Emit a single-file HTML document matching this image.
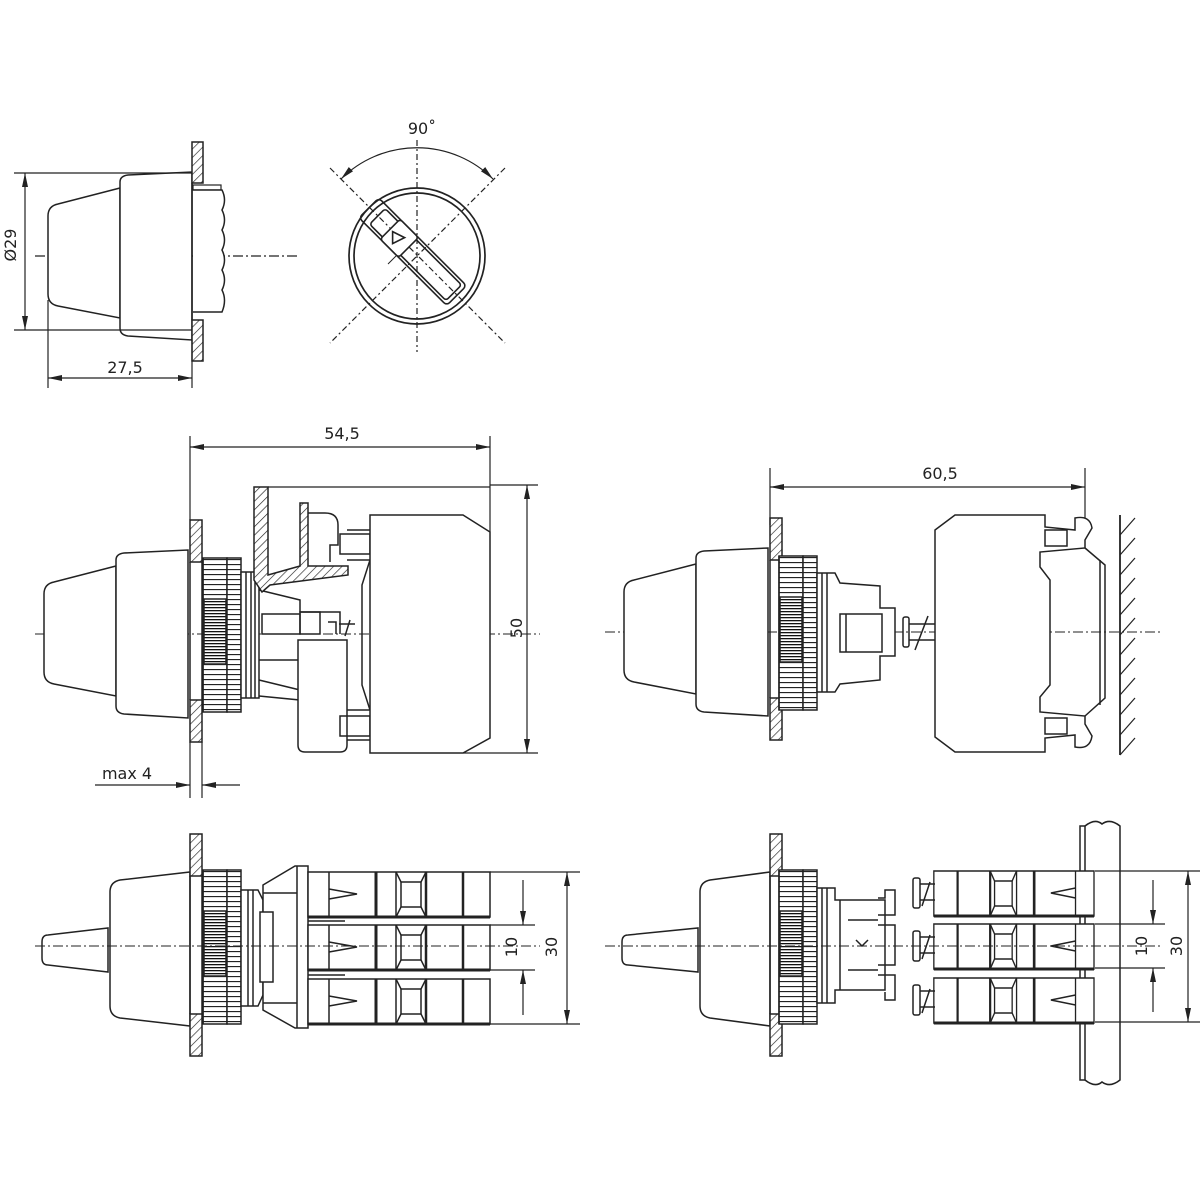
<!DOCTYPE html>
<html><head><meta charset="utf-8"><style>
html,body{margin:0;padding:0;background:#fff;}
svg{display:block;}
text{font-family:"DejaVu Sans","Liberation Sans",sans-serif;font-size:16px;fill:#222;}
</style></head><body>
<svg width="1200" height="1200" viewBox="0 0 1200 1200" xmlns="http://www.w3.org/2000/svg">
<defs>
<pattern id="h" width="6" height="6" patternUnits="userSpaceOnUse" patternTransform="rotate(45)">
<rect width="6" height="6" fill="#fff"/><line x1="0" y1="0" x2="0" y2="6" stroke="#222" stroke-width="1.3"/></pattern>
<pattern id="kn" width="10" height="5" patternUnits="userSpaceOnUse">
<rect width="10" height="5" fill="#fff"/><line x1="0" y1="0.5" x2="10" y2="0.5" stroke="#222" stroke-width="1.3"/></pattern>
<pattern id="kd" width="10" height="3" patternUnits="userSpaceOnUse">
<rect width="10" height="3" fill="#fff"/><line x1="0" y1="0.5" x2="10" y2="0.5" stroke="#111" stroke-width="1.6"/></pattern>
<marker id="a" markerWidth="14" markerHeight="8" refX="14" refY="4" orient="auto" markerUnits="userSpaceOnUse">
<path d="M0,1 L14,4 L0,7 Z" fill="#222"/></marker>
<marker id="as" markerWidth="14" markerHeight="8" refX="0" refY="4" orient="auto" markerUnits="userSpaceOnUse">
<path d="M14,1 L0,4 L14,7 Z" fill="#222"/></marker>

<!-- knob side view: plate at x=190, center y=0 -->
<g id="knob">
<path d="M46,-40 Q46,-50 56,-52 L118,-68 L118,62 L56,50 Q46,48 46,38 Z" fill="#fff" stroke="#222" stroke-width="1.5"/>
<path d="M118,-74 Q118,-80 126,-81 L190,-84 L190,84 L126,80 Q118,79 118,72 Z" fill="#fff" stroke="#222" stroke-width="1.5"/>
</g>
<g id="ring">
<rect x="203" y="-76" width="24" height="154" fill="url(#kn)" stroke="#222" stroke-width="1.5"/>
<rect x="204" y="-35" width="22" height="65" fill="url(#kd)"/>
<rect x="227" y="-76" width="14" height="154" fill="url(#kn)" stroke="#222" stroke-width="1.5"/>
<line x1="203" y1="-76" x2="203" y2="78" stroke="#222" stroke-width="1.5"/>
</g>
<g id="plate">
<rect x="190" y="-114" width="12" height="42" fill="url(#h)" stroke="#222" stroke-width="1.5"/>
<rect x="190" y="66" width="12" height="42" fill="url(#h)" stroke="#222" stroke-width="1.5"/>
<line x1="190" y1="-72" x2="190" y2="66" stroke="#222" stroke-width="1.5"/>
<line x1="202" y1="-72" x2="202" y2="66" stroke="#222" stroke-width="1.5"/>
</g>
<g id="row" fill="#fff" stroke="#222" stroke-width="1.5">
<rect x="0" y="0" width="182" height="45"/>
<line x1="21" y1="0" x2="21" y2="45"/><line x1="68" y1="0" x2="68" y2="45" stroke-width="3"/>
<line x1="88" y1="0" x2="88" y2="45"/><line x1="118" y1="0" x2="118" y2="45" stroke-width="2.5"/>
<line x1="155" y1="0" x2="155" y2="45" stroke-width="2.5"/>
<rect x="93" y="10" width="20" height="25"/>
<line x1="88" y1="0" x2="93" y2="10"/><line x1="118" y1="0" x2="113" y2="10"/><line x1="88" y1="45" x2="93" y2="35"/><line x1="118" y1="45" x2="113" y2="35"/>
<path d="M21,17 L49,22 L21,27" fill="none"/>
<line x1="0" y1="45" x2="182" y2="45" stroke-width="3"/>
</g>
</defs>

<g stroke="#222" stroke-width="1.2" fill="none">
<!-- ================= TOP LEFT ================= -->
<line x1="35" y1="256" x2="297" y2="256" stroke-dasharray="10,3,2,3"/>
<g transform="translate(2,256)"><use href="#knob"/></g>
<g transform="translate(0,256)">
<rect x="192" y="-114" width="11" height="41" fill="url(#h)" stroke-width="1.5"/>
<rect x="192" y="64" width="11" height="41" fill="url(#h)" stroke-width="1.5"/>
<line x1="192" y1="-73" x2="192" y2="64" stroke-width="1.5"/>
</g>
<rect x="193" y="185" width="28" height="5" fill="#fff"/>
<path d="M193,190 L222,190 Q227,200 222,210 Q227,220 222,230 Q227,240 222,250 Q227,260 222,270 Q227,280 222,290 Q227,300 222,312 L193,312" stroke-width="1.5" fill="#fff"/>
<line x1="14" y1="173" x2="192" y2="173"/>
<line x1="14" y1="330" x2="192" y2="330"/>
<line x1="25" y1="173" x2="25" y2="330" marker-start="url(#as)" marker-end="url(#a)"/>
<line x1="48" y1="300" x2="48" y2="388"/>
<line x1="192" y1="340" x2="192" y2="388"/>
<line x1="48" y1="378" x2="192" y2="378" marker-start="url(#as)" marker-end="url(#a)"/>

<!-- dial -->
<line x1="417" y1="140" x2="417" y2="352" stroke-dasharray="6,3,2,3"/>
<line x1="330" y1="168" x2="505" y2="343" stroke-dasharray="6,3,2,3"/>
<line x1="505" y1="168" x2="330" y2="343" stroke-dasharray="6,3,2,3"/>
<circle cx="417" cy="256" r="68" stroke-width="1.7" fill="none"/>
<circle cx="417" cy="256" r="63" stroke-width="1.7"/>
<path d="M341,179 A108,108 0 0 1 493,179" marker-start="url(#as)" marker-end="url(#a)"/>
<g transform="translate(417,256) rotate(45)" stroke-width="1.6">
<rect x="-68" y="-14" width="124" height="28" rx="4"/>
<rect x="-56" y="-11" width="108" height="22" rx="3"/>
<rect x="-38" y="-14" width="26" height="28" rx="3" fill="#fff"/>
<path d="M-32,-6 L-20,0 L-32,6 Z" transform="rotate(-45,-26,0)"/>
</g>
<line x1="388" y1="264" x2="396" y2="256" stroke-width="1"/>
</g>

<!-- ================= MIDDLE LEFT ================= -->
<g stroke="#222" stroke-width="1.5" fill="none">
<line x1="35" y1="634" x2="540" y2="634" stroke-width="1" stroke-dasharray="10,3,2,3"/>
<g transform="translate(-2,634)"><use href="#knob"/></g>
<g transform="translate(0,634)"><use href="#plate"/><use href="#ring"/></g>
<rect x="241" y="572" width="18" height="126" fill="#fff"/>
<line x1="246" y1="572" x2="246" y2="698"/><line x1="251" y1="572" x2="251" y2="698"/><line x1="255" y1="572" x2="255" y2="698"/>
<!-- internal -->
<path d="M259,590 L300,600 L300,612 L340,612 L340,634" />
<rect x="262" y="614" width="38" height="20"/>
<rect x="300" y="612" width="20" height="22"/>
<path d="M259,680 L300,690 L300,700 L259,696"/>
<path d="M259,660 L300,660"/>
<!-- bracket hatched -->
<path d="M254,487 L268,487 L268,575 L300,566 L300,503 L308,503 L308,566 L348,566 L348,575 L270,585 L262,592 L254,580 Z" fill="url(#h)"/>
<path d="M308,513 L325,513 Q338,513 338,525 L338,545 L330,545 L330,562" />
<path d="M268,487 L490,487" stroke-width="1.2"/>
<!-- lower block -->
<path d="M298,640 L298,745 Q298,752 305,752 L340,752 Q347,752 347,745 L347,640 Z" fill="#fff"/>
<path d="M328,622 L336,622 L336,634" />
<path d="M339,624 L355,624" /><path d="M350,620 L345,636"/>
<!-- frame -->
<path d="M347,530 L370,530 M347,560 L370,560 L362,585 L362,685 L370,710 M347,710 L370,710 M347,740 L370,740"/>
<rect x="340" y="534" width="30" height="20"/>
<rect x="340" y="716" width="30" height="20"/>
<!-- main block -->
<path d="M370,515 L463,515 L490,532 L490,738 L463,753 L370,753 Z" fill="#fff"/>
<!-- dims -->
<line x1="190" y1="436" x2="190" y2="520" stroke-width="1.2"/>
<line x1="490" y1="436" x2="490" y2="532" stroke-width="1.2"/>
<line x1="190" y1="447" x2="490" y2="447" stroke-width="1.2" marker-start="url(#as)" marker-end="url(#a)"/>
<line x1="490" y1="485" x2="538" y2="485" stroke-width="1.2"/>
<line x1="463" y1="753" x2="538" y2="753" stroke-width="1.2"/>
<line x1="527" y1="485" x2="527" y2="753" stroke-width="1.2" marker-start="url(#as)" marker-end="url(#a)"/>
<line x1="190" y1="742" x2="190" y2="798" stroke-width="1.2"/>
<line x1="202" y1="742" x2="202" y2="798" stroke-width="1.2"/>
<line x1="95" y1="785" x2="190" y2="785" stroke-width="1.2" marker-end="url(#a)"/>
<line x1="240" y1="785" x2="202" y2="785" stroke-width="1.2" marker-end="url(#a)"/>
</g>

<!-- ================= MIDDLE RIGHT ================= -->
<g stroke="#222" stroke-width="1.5" fill="none">
<line x1="605" y1="632" x2="1160" y2="632" stroke-width="1" stroke-dasharray="10,3,2,3"/>
<g transform="translate(578,632)"><use href="#knob"/></g>
<g transform="translate(580,632)"><use href="#plate"/></g>
<g transform="translate(576,632)"><use href="#ring"/></g>
<path d="M817,573 L835,573 L840,583 L880,586 L880,608 L895,608 L895,656 L880,656 L880,680 L840,684 L835,692 L817,692 Z" fill="#fff"/>
<line x1="822" y1="573" x2="822" y2="692"/><line x1="827" y1="573" x2="827" y2="692"/>
<rect x="840" y="614" width="42" height="38" fill="#fff"/>
<line x1="846" y1="614" x2="846" y2="652"/>
<rect x="903" y="617" width="6" height="30" rx="2"/>
<path d="M909,624 L935,624 M909,640 L935,640"/>
<path d="M915,650 L928,616"/>
<!-- block -->
<path d="M935,530 L955,515 L1045,515 L1045,527 L1075,530 L1075,518 Q1090,515 1092,528 L1085,540 L1085,548 L1040,552 L1040,567 L1050,580 L1050,685 L1040,697 L1040,712 L1085,716 L1085,724 L1092,736 Q1090,750 1075,747 L1075,735 L1045,738 L1045,752 L955,752 L935,737 Z" fill="#fff"/>
<rect x="1045" y="530" width="22" height="16"/>
<rect x="1045" y="718" width="22" height="16"/>
<!-- DIN rail -->
<path d="M1085,548 L1105,565 L1105,698 L1085,716"/>
<path d="M1100,560 L1100,705"/>
<!-- wall -->
<line x1="1120" y1="515" x2="1120" y2="755" stroke-width="1.8"/>
<g stroke-width="1.2">
<line x1="1120" y1="535" x2="1135" y2="518"/><line x1="1120" y1="555" x2="1135" y2="538"/><line x1="1120" y1="575" x2="1135" y2="558"/><line x1="1120" y1="595" x2="1135" y2="578"/><line x1="1120" y1="615" x2="1135" y2="598"/><line x1="1120" y1="635" x2="1135" y2="618"/><line x1="1120" y1="655" x2="1135" y2="638"/><line x1="1120" y1="675" x2="1135" y2="658"/><line x1="1120" y1="695" x2="1135" y2="678"/><line x1="1120" y1="715" x2="1135" y2="698"/><line x1="1120" y1="735" x2="1135" y2="718"/><line x1="1120" y1="755" x2="1135" y2="738"/>
</g>
<line x1="770" y1="468" x2="770" y2="525" stroke-width="1.2"/>
<line x1="1085" y1="468" x2="1085" y2="518" stroke-width="1.2"/>
<line x1="770" y1="487" x2="1085" y2="487" stroke-width="1.2" marker-start="url(#as)" marker-end="url(#a)"/>
</g>

<!-- ================= BOTTOM LEFT ================= -->
<g stroke="#222" stroke-width="1.5" fill="none">
<path d="M48,935 Q42,935 42,942 L42,958 Q42,965 48,965 L108,972 L108,928 Z" fill="#fff"/>
<path d="M110,892 Q110,882 120,880 L190,872 L190,1026 L120,1018 Q110,1016 110,1006 Z" fill="#fff"/>
<g transform="translate(0,948)"><use href="#plate"/></g>
<g transform="translate(0,946)"><use href="#ring"/></g>
<path d="M241,890 L258,890 L263,900 L263,995 L258,1006 L241,1006 Z" fill="#fff"/>
<line x1="248" y1="890" x2="248" y2="1006"/><line x1="253" y1="890" x2="253" y2="1006"/>
<path d="M263,885 L295,866 L308,866 L308,1028 L295,1028 L263,1010 Z" fill="#fff"/>
<rect x="260" y="912" width="13" height="70" fill="#fff"/>
<line x1="263" y1="893" x2="297" y2="893"/><line x1="263" y1="1003" x2="297" y2="1003"/>
<line x1="297" y1="866" x2="297" y2="1028"/>
<use href="#row" x="308" y="872"/>
<use href="#row" x="308" y="925"/>
<use href="#row" x="308" y="979"/>
<line x1="308" y1="921" x2="345" y2="921"/><line x1="308" y1="975" x2="345" y2="975"/>
<line x1="35" y1="946" x2="540" y2="946" stroke-width="1" stroke-dasharray="10,3,2,3"/>
<g stroke-width="1.2">
<line x1="490" y1="872" x2="580" y2="872"/><line x1="490" y1="1024" x2="580" y2="1024"/>
<line x1="490" y1="925" x2="535" y2="925"/><line x1="490" y1="970" x2="535" y2="970"/>
<line x1="567" y1="872" x2="567" y2="1024" marker-start="url(#as)" marker-end="url(#a)"/>
<line x1="523" y1="880" x2="523" y2="925" marker-end="url(#a)"/>
<line x1="523" y1="1015" x2="523" y2="970" marker-end="url(#a)"/>
</g>
</g>

<!-- ================= BOTTOM RIGHT ================= -->
<g stroke="#222" stroke-width="1.5" fill="none">
<path d="M628,935 Q622,935 622,942 L622,958 Q622,965 628,965 L698,972 L698,928 Z" fill="#fff"/>
<path d="M700,892 Q700,882 710,880 L770,872 L770,1026 L710,1018 Q700,1016 700,1006 Z" fill="#fff"/>
<g transform="translate(580,948)"><use href="#plate"/></g>
<g transform="translate(576,946)"><use href="#ring"/></g>
<path d="M817,888 L835,888 L835,900 L885,900 L885,990 L835,990 L835,1003 L817,1003 Z" fill="#fff"/>
<line x1="822" y1="888" x2="822" y2="1003"/><line x1="827" y1="888" x2="827" y2="1003"/>
<line x1="840" y1="900" x2="840" y2="990"/><line x1="848" y1="920" x2="878" y2="920"/><line x1="848" y1="970" x2="878" y2="970"/>
<path d="M856,940 L862,946 L868,940"/>
<path d="M878,898 L885,898 L885,890 L895,890 L895,915 L878,915 M878,925 L895,925 L895,965 L878,965 M878,975 L895,975 L895,1000 L885,1000 L885,992"/>
<!-- rail -->
<path d="M1080,826 L1080,1080 L1085,1080 L1085,826 Z" fill="#fff"/>
<path d="M1085,826 Q1095,818 1102,824 Q1110,818 1120,826 L1120,1080 Q1110,1088 1102,1082 Q1095,1088 1085,1080"/>
<g transform="translate(-1,0)">
<use href="#row" x="0" y="0" transform="translate(1095,871) scale(-0.88,1)"/>
<use href="#row" x="0" y="0" transform="translate(1095,924) scale(-0.88,1)"/>
<use href="#row" x="0" y="0" transform="translate(1095,978) scale(-0.88,1)"/>
</g>
<rect x="913" y="878" width="7" height="30" rx="2"/><path d="M920,884 L935,884 M920,900 L935,900 M922,906 L930,882"/>
<rect x="913" y="931" width="7" height="30" rx="2"/><path d="M920,937 L935,937 M920,953 L935,953 M922,959 L930,935"/>
<rect x="913" y="985" width="7" height="30" rx="2"/><path d="M920,991 L935,991 M920,1007 L935,1007 M922,1013 L930,989"/>
<line x1="605" y1="946" x2="1160" y2="946" stroke-width="1" stroke-dasharray="10,3,2,3"/>
<g stroke-width="1.2">
<line x1="1095" y1="871" x2="1200" y2="871"/><line x1="1095" y1="1022" x2="1200" y2="1022"/>
<line x1="1095" y1="924" x2="1165" y2="924"/><line x1="1095" y1="968" x2="1165" y2="968"/>
<line x1="1188" y1="871" x2="1188" y2="1022" marker-start="url(#as)" marker-end="url(#a)"/>
<line x1="1153" y1="880" x2="1153" y2="924" marker-end="url(#a)"/>
<line x1="1153" y1="1012" x2="1153" y2="968" marker-end="url(#a)"/>
</g>
</g>

<!-- TEXT -->
<text x="16" y="245" text-anchor="middle" transform="rotate(-90 16 245)">Ø29</text>
<text x="125" y="373" text-anchor="middle">27,5</text>
<text x="422" y="134" text-anchor="middle">90˚</text>
<text x="342" y="439" text-anchor="middle">54,5</text>
<text x="522" y="628" text-anchor="middle" transform="rotate(-90 522 628)">50</text>
<text x="127" y="779" text-anchor="middle">max 4</text>
<text x="940" y="479" text-anchor="middle">60,5</text>
<text x="517" y="947" text-anchor="middle" transform="rotate(-90 517 947)">10</text>
<text x="557" y="947" text-anchor="middle" transform="rotate(-90 557 947)">30</text>
<text x="1147" y="946" text-anchor="middle" transform="rotate(-90 1147 946)">10</text>
<text x="1182" y="946" text-anchor="middle" transform="rotate(-90 1182 946)">30</text>
</svg>
</body></html>
